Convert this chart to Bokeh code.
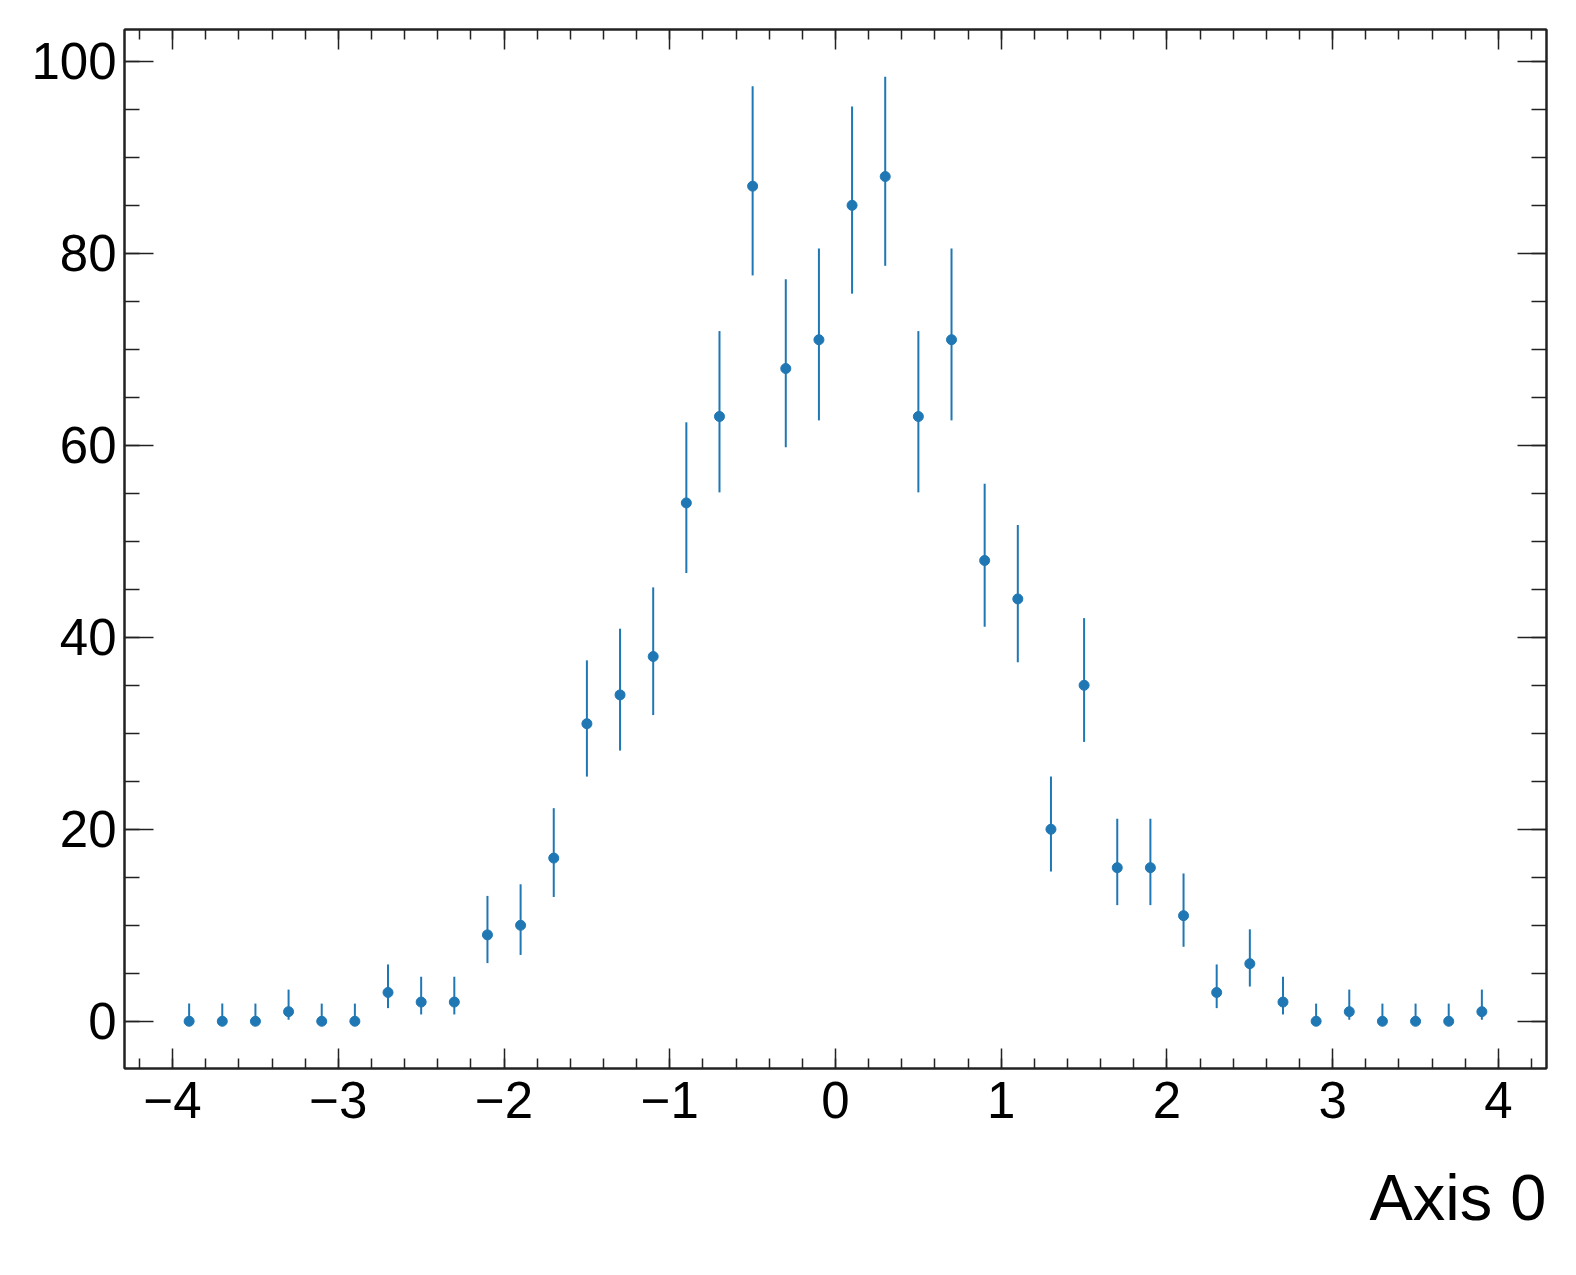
from bokeh.plotting import figure
from bokeh.models import Range1d, FixedTicker, LinearAxis, Title, ColumnDataSource, CustomJSTickFormatter
from bokeh.embed import file_html
from bokeh.resources import INLINE

# bin centres and counts
bin_centers = [-3.9, -3.7, -3.5, -3.3, -3.1, -2.9, -2.7, -2.5, -2.3, -2.1,
               -1.9, -1.7, -1.5, -1.3, -1.1, -0.9, -0.7, -0.5, -0.3, -0.1,
               0.1, 0.3, 0.5, 0.7, 0.9, 1.1, 1.3, 1.5, 1.7, 1.9,
               2.1, 2.3, 2.5, 2.7, 2.9, 3.1, 3.3, 3.5, 3.7, 3.9]
counts = [0, 0, 0, 1, 0, 0, 3, 2, 2, 9,
          10, 17, 31, 34, 38, 54, 63, 87, 68, 71,
          85, 88, 63, 71, 48, 44, 20, 35, 16, 16,
          11, 3, 6, 2, 0, 1, 0, 0, 0, 1]
# lower / upper ends of the error bars
err_low = [0, 0, 0, 0.17, 0, 0, 1.37, 0.71, 0.71, 6.06,
           6.91, 12.95, 25.49, 28.2, 31.9, 46.7, 55.1, 77.7, 59.8, 62.6,
           75.8, 78.7, 55.1, 62.6, 41.1, 37.4, 15.6, 29.1, 12.1, 12.1,
           7.76, 1.37, 3.62, 0.71, 0, 0.17, 0, 0, 0, 0.17]
err_high = [1.84, 1.84, 1.84, 3.30, 1.84, 1.84, 5.92, 4.64, 4.64, 13.06,
            14.27, 22.2, 37.6, 40.9, 45.2, 62.4, 71.9, 97.4, 77.3, 80.5,
            95.3, 98.4, 71.9, 80.5, 56.0, 51.7, 25.5, 42.0, 21.1, 21.1,
            15.4, 5.92, 9.58, 4.64, 1.84, 3.30, 1.84, 1.84, 1.84, 3.30]

x_major = [-4, -3, -2, -1, 0, 1, 2, 3, 4]
x_labels = ["\u22124", "\u22123", "\u22122", "\u22121", "0", "1", "2", "3", "4"]
y_major = [0, 20, 40, 60, 80, 100]
y_labels = ["0", "20", "40", "60", "80", "100"]
x_label = "Axis 0"

color = "#1f77b4"
font = "Liberation Sans"
axis_color = "#222222"

X0, X1 = -4.29, 4.29
Y0, Y1 = -4.92, 103.32

p = figure(width=1560, height=1274, output_backend="svg", toolbar_location=None,
           x_range=Range1d(X0, X1), y_range=Range1d(Y0, Y1),
           x_axis_location=None, y_axis_location=None,
           min_border_left=124, min_border_right=14, min_border_top=29, min_border_bottom=206)
p.xgrid.visible = False
p.ygrid.visible = False
p.outline_line_color = axis_color
p.outline_line_width = 2
p.background_fill_color = "white"
p.border_fill_color = "white"

src = ColumnDataSource(dict(x=bin_centers, y=counts, lo=err_low, hi=err_high))
p.segment(x0="x", y0="lo", x1="x", y1="hi", source=src, line_color=color, line_width=2)
p.scatter(x="x", y="y", source=src, size=10, fill_color=color, line_color=color)

x_minor = [round(-4.2 + 0.2 * i, 1) for i in range(43)]
y_minor = [5 * i for i in range(-1, 22)]


def style(ax, ticks, minor, labels, show, tick_len, minor_len):
    ax.ticker = FixedTicker(ticks=ticks, minor_ticks=minor)
    ax.axis_line_color = axis_color
    ax.axis_line_width = 2
    ax.major_tick_line_color = axis_color
    ax.minor_tick_line_color = axis_color
    ax.major_tick_line_width = 1.5
    ax.minor_tick_line_width = 1.5
    ax.major_tick_in = tick_len
    ax.major_tick_out = 0
    ax.minor_tick_in = minor_len
    ax.minor_tick_out = 0
    if show:
        ax.major_label_overrides = {t: l for t, l in zip(ticks, labels)}
        ax.major_label_text_font = font
        ax.major_label_text_font_size = "51px"
        ax.major_label_text_color = "black"
    else:
        ax.formatter = CustomJSTickFormatter(code="return ''")
        ax.major_label_standoff = 0


xb = LinearAxis()
style(xb, x_major, x_minor, x_labels, True, 20, 10)
xb.major_label_standoff = 13
p.add_layout(xb, "below")
xt = LinearAxis()
style(xt, x_major, x_minor, x_labels, False, 20, 10)
p.add_layout(xt, "above")
yl = LinearAxis()
style(yl, y_major, y_minor, y_labels, True, 29, 15)
yl.major_label_standoff = 8
p.add_layout(yl, "left")
yr = LinearAxis()
style(yr, y_major, y_minor, y_labels, False, 29, 15)
p.add_layout(yr, "right")

# x-axis title, right-aligned to the plot frame
t = Title(text=x_label, align="right", text_font=font, text_font_size="65px",
          text_font_style="normal", text_color="black", standoff=76)
p.add_layout(t, "below")

open("out.html", "w").write(file_html(p, INLINE))
